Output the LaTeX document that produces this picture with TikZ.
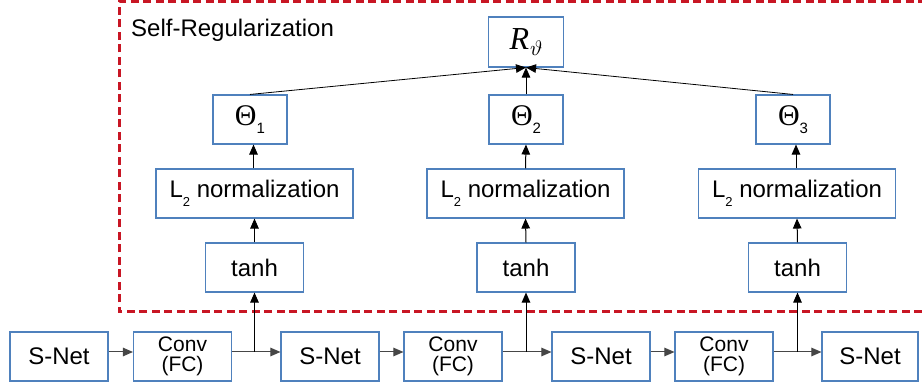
\documentclass[tikz,border=0pt]{standalone}
\usepackage{graphicx}
\usepackage{fontspec}
\setmainfont{Liberation Sans}
\newfontfamily\serifgr{Liberation Serif}
\usetikzlibrary{arrows.meta,calc}
\definecolor{boxblue}{RGB}{79,129,189}
\definecolor{regred}{RGB}{200,22,36}
\definecolor{linegray}{RGB}{70,70,70}
\tikzset{
  box/.style={draw=boxblue, line width=1.1pt, inner sep=0pt, align=center,
    font=\fontsize{24}{26}\selectfont},
  smallbox/.style={box, minimum width=98pt, minimum height=49pt},
  thetabox/.style={box, minimum width=74pt, minimum height=49pt},
  normbox/.style={box, minimum width=197pt, minimum height=49pt},
  convbox/.style={box, minimum width=98pt, minimum height=49pt,
    font=\fontsize{21}{21}\selectfont},
  conn/.style={draw=linegray, line width=1pt, -{Triangle[length=10pt,width=8.5pt]}},
  vconn/.style={draw=black, line width=1pt, -{Triangle[length=10pt,width=8.5pt]}},
  thinconn/.style={draw=black, line width=0.8pt, -{Triangle[length=10pt,width=8.5pt]}}
}
\newcommand{\Ltwo}{L\raisebox{-8.5pt}{\fontsize{13}{13}\selectfont 2} normalization}
\newcommand{\Th}[1]{{\serifgr\fontsize{30}{30}\selectfont\char"0398}\raisebox{-7.5pt}{\fontsize{15}{15}\selectfont #1}}
\newcommand{\Rtheta}{{\serifgr\itshape\fontsize{32}{32}\selectfont R}\kern1pt\raisebox{-6pt}{\fontsize{10}{12}\selectfont\scalebox{2.1}{$\vartheta$}}}
\begin{document}
\begin{tikzpicture}[x=1pt,y=1pt]
\useasboundingbox (0,0) rectangle (922,385);
% red dashed region
\draw[regred, line width=3pt, dash pattern=on 8pt off 4.5pt]
  (922,73) -- (119,73) -- (119,383.5) -- (922,383.5);
\node[anchor=base west, font=\fontsize{24}{26}\selectfont, inner sep=0pt] (title) at (131,348) {Self-Regularization};
% top node
\node[box, minimum width=75pt, minimum height=50pt] (R) at (526,343) {\Rtheta};
% thetas
\node[thetabox] (th1) at (250,265.5) {\Th{1}};
\node[thetabox] (th2) at (526,265.5) {\Th{2}};
\node[thetabox] (th3) at (793,265.5) {\Th{3}};
% L2 normalization
\node[normbox] (l1) at (254.5,191.5) {\Ltwo};
\node[normbox] (l2) at (525.5,191.5) {\Ltwo};
\node[normbox] (l3) at (797,191.5) {\Ltwo};
% tanh
\node[smallbox] (t1) at (254.5,117.5) {tanh};
\node[smallbox] (t2) at (526,117.5) {tanh};
\node[smallbox] (t3) at (797.5,117.5) {tanh};
% bottom row
\node[smallbox] (s1) at (59,28.5) {S-Net};
\node[convbox] (c1) at (182.5,28.5) {Conv\\[-1pt](FC)};
\node[smallbox] (s2) at (330,28.5) {S-Net};
\node[convbox] (c2) at (453,28.5) {Conv\\[-1pt](FC)};
\node[smallbox] (s3) at (601,28.5) {S-Net};
\node[convbox] (c3) at (724,28.5) {Conv\\[-1pt](FC)};
\node[smallbox, minimum width=96pt] (s4) at (870,28.5) {S-Net};
% branch points
\coordinate (b1) at ($(t1.south |- c1.east)+(0,4.5)$);
\coordinate (b2) at ($(t2.south |- c2.east)+(0,4.5)$);
\coordinate (b3) at ($(t3.south |- c3.east)+(0,4.5)$);
% horizontal chain
\draw[conn] ($(s1.east)+(0,4.5)$) -- ($(c1.west)+(0,4.5)$);
\draw[conn] ($(c1.east)+(0,4.5)$) -- ($(s2.west)+(0,4.5)$);
\draw[conn] ($(s2.east)+(0,4.5)$) -- ($(c2.west)+(0,4.5)$);
\draw[conn] ($(c2.east)+(0,4.5)$) -- ($(s3.west)+(0,4.5)$);
\draw[conn] ($(s3.east)+(0,4.5)$) -- ($(c3.west)+(0,4.5)$);
\draw[conn] ($(c3.east)+(0,4.5)$) -- ($(s4.west)+(0,4.5)$);
% branches up
\draw[vconn] (b1) -- (t1.south);
\draw[vconn] (b2) -- (t2.south);
\draw[vconn] (b3) -- (t3.south);
\draw[vconn] (t1.north) -- (l1.south);
\draw[vconn] (t2.north) -- (l2.south);
\draw[vconn] (t3.north) -- (l3.south);
\draw[vconn] ($(l1.north)+(-1,0)$) -- ($(th1.south)+(3.5,0)$);
\draw[vconn] (l2.north) -- (th2.south);
\draw[vconn] ($(l3.north)+(-1,0)$) -- ($(th3.south)+(3,0)$);
% to R
\draw[thinconn] (th1.north) -- (R.south);
\draw[thinconn] (th2.north) -- (R.south);
\draw[thinconn] (th3.north) -- (R.south);
\end{tikzpicture}
\end{document}
